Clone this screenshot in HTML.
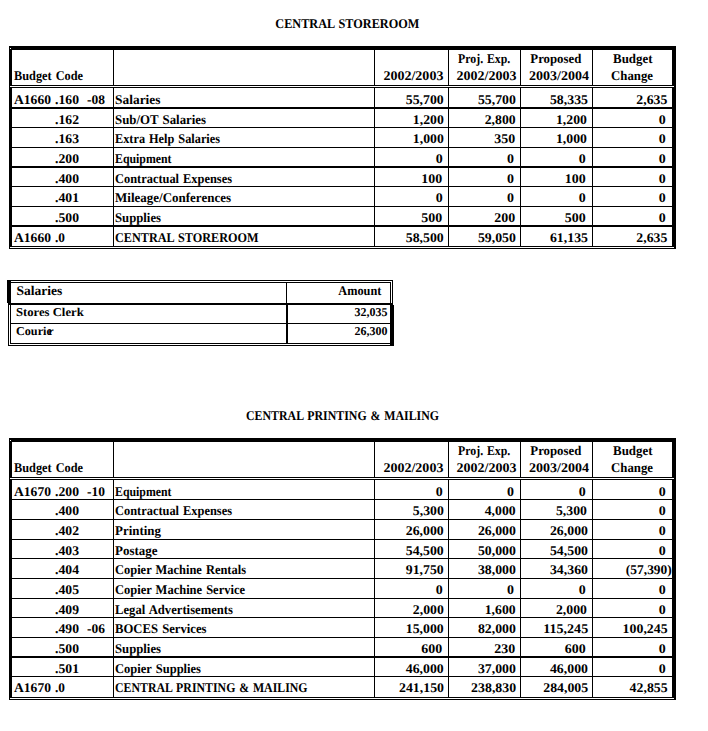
<!DOCTYPE html>
<html><head><meta charset="utf-8"><title>Budget</title>
<style>
html,body{margin:0;padding:0;background:#fff}
body{width:708px;height:731px;position:relative;overflow:hidden;font-family:"Liberation Serif",serif;font-weight:bold;font-size:13.33px;color:#000}
i{position:absolute;display:block;background:#000}
i.w{background:#fff}
b{position:absolute;display:block;white-space:pre;line-height:20px;height:20px;font-weight:bold;transform-origin:0 0}
</style></head><body>

<i style="left:9px;top:46px;width:667px;height:4px"></i>
<i style="left:9px;top:46px;width:3px;height:201px"></i>
<i style="left:9px;top:246px;width:1px;height:3px"></i>
<i style="left:672px;top:46px;width:4px;height:203px"></i>
<i style="left:9px;top:85px;width:667px;height:1px"></i>
<i style="left:9px;top:87px;width:667px;height:1px"></i>
<i style="left:9px;top:107px;width:665px;height:2px"></i>
<i style="left:9px;top:127px;width:665px;height:1px"></i>
<i style="left:9px;top:147px;width:665px;height:1px"></i>
<i style="left:9px;top:166px;width:665px;height:2px"></i>
<i style="left:9px;top:186px;width:665px;height:1px"></i>
<i style="left:9px;top:206px;width:665px;height:1px"></i>
<i style="left:9px;top:225px;width:665px;height:2px"></i>
<i style="left:9px;top:246px;width:665px;height:1px"></i>
<i style="left:9px;top:248px;width:667px;height:1px"></i>
<i style="left:113px;top:46px;width:1px;height:39px"></i>
<i style="left:113px;top:87px;width:1px;height:159px"></i>
<i style="left:374px;top:46px;width:1px;height:39px"></i>
<i style="left:374px;top:87px;width:1px;height:159px"></i>
<i style="left:448px;top:46px;width:1px;height:39px"></i>
<i style="left:448px;top:87px;width:1px;height:159px"></i>
<i style="left:520px;top:46px;width:1px;height:39px"></i>
<i style="left:520px;top:87px;width:1px;height:159px"></i>
<i style="left:592px;top:46px;width:1px;height:39px"></i>
<i style="left:592px;top:87px;width:1px;height:159px"></i>
<i style="left:9px;top:438px;width:667px;height:4px"></i>
<i style="left:9px;top:438px;width:3px;height:260px"></i>
<i style="left:9px;top:697px;width:1px;height:3px"></i>
<i style="left:672px;top:438px;width:4px;height:262px"></i>
<i style="left:9px;top:477px;width:667px;height:1px"></i>
<i style="left:9px;top:479px;width:667px;height:1px"></i>
<i style="left:9px;top:499px;width:665px;height:1px"></i>
<i style="left:9px;top:519px;width:665px;height:1px"></i>
<i style="left:9px;top:539px;width:665px;height:1px"></i>
<i style="left:9px;top:558px;width:665px;height:1px"></i>
<i style="left:9px;top:578px;width:665px;height:1px"></i>
<i style="left:9px;top:598px;width:665px;height:1px"></i>
<i style="left:9px;top:617px;width:665px;height:1px"></i>
<i style="left:9px;top:637px;width:665px;height:1px"></i>
<i style="left:9px;top:656px;width:665px;height:2px"></i>
<i style="left:9px;top:676px;width:665px;height:1px"></i>
<i style="left:9px;top:697px;width:665px;height:1px"></i>
<i style="left:9px;top:699px;width:667px;height:1px"></i>
<i style="left:113px;top:438px;width:1px;height:39px"></i>
<i style="left:113px;top:479px;width:1px;height:218px"></i>
<i style="left:374px;top:438px;width:1px;height:39px"></i>
<i style="left:374px;top:479px;width:1px;height:218px"></i>
<i style="left:448px;top:438px;width:1px;height:39px"></i>
<i style="left:448px;top:479px;width:1px;height:218px"></i>
<i style="left:520px;top:438px;width:1px;height:39px"></i>
<i style="left:520px;top:479px;width:1px;height:218px"></i>
<i style="left:592px;top:438px;width:1px;height:39px"></i>
<i style="left:592px;top:479px;width:1px;height:218px"></i>
<i style="left:8px;top:280px;width:385px;height:1px"></i>
<i style="left:10px;top:282px;width:381px;height:1px"></i>
<i style="left:7px;top:280px;width:4px;height:23px"></i>
<i style="left:8px;top:303px;width:1px;height:43px"></i>
<i style="left:10px;top:303px;width:1px;height:41px"></i>
<i style="left:8px;top:303px;width:385px;height:2px"></i>
<i style="left:10px;top:323px;width:381px;height:1px"></i>
<i style="left:10px;top:343px;width:381px;height:1px"></i>
<i style="left:8px;top:345px;width:386px;height:1px"></i>
<i style="left:286px;top:282px;width:1px;height:22px"></i>
<i style="left:286px;top:303px;width:2px;height:41px"></i>
<i style="left:390px;top:282px;width:1px;height:22px"></i>
<i style="left:392px;top:280px;width:1px;height:24px"></i>
<i style="left:390px;top:305px;width:4px;height:41px"></i>
<i class="w" style="left:10px;top:86px;width:664px;height:1px"></i>
<i class="w" style="left:10px;top:48px;width:1px;height:1px"></i>
<i class="w" style="left:10px;top:247px;width:664px;height:1px"></i>
<i class="w" style="left:10px;top:478px;width:664px;height:1px"></i>
<i class="w" style="left:10px;top:440px;width:1px;height:1px"></i>
<i class="w" style="left:10px;top:698px;width:664px;height:1px"></i>


<b style="top:14px;left:275px;word-spacing:1.0px;transform:translateX(0.30px) skewX(.05deg) scaleX(0.9192);">CENTRAL STOREROOM</b>
<b style="top:406px;left:246px;word-spacing:1.0px;transform:translateX(0.00px) skewX(.05deg) scaleX(0.8909);">CENTRAL PRINTING &amp; MAILING</b>
<b style="top:66px;left:14px;word-spacing:1.0px;transform:translateX(0.00px) skewX(.05deg) scaleX(0.9238);">Budget Code</b>
<b style="top:66px;left:383px;transform:translateX(0.40px) skewX(.05deg) scaleX(1.0523);">2002/2003</b>
<b style="top:49px;left:458px;word-spacing:1.0px;transform:translateX(0.00px) skewX(.05deg) scaleX(0.8881);">Proj. Exp.</b>
<b style="top:66px;left:456px;transform:translateX(0.50px) skewX(.05deg) scaleX(1.0523);">2002/2003</b>
<b style="top:49px;left:530px;transform:translateX(0.30px) skewX(.05deg) scaleX(0.9608);">Proposed</b>
<b style="top:66px;left:529px;transform:translateX(0.00px) skewX(.05deg) scaleX(1.0523);">2003/2004</b>
<b style="top:49px;left:613px;transform:translateX(0.00px) skewX(.05deg) scaleX(0.9697);">Budget</b>
<b style="top:66px;left:611px;transform:translateX(0.00px) skewX(.05deg) scaleX(0.9610);">Change</b>
<b style="top:90px;left:14px;transform:translateX(0.00px) skewX(.05deg) scaleX(1.0194);">A1660</b>
<b style="top:90px;left:55px;transform:translateX(0.00px) skewX(.05deg) scaleX(1.0288);">.160</b>
<b style="top:90px;left:87px;transform:translateX(0.00px) skewX(.05deg) scaleX(1.0123);">-08</b>
<b style="top:90px;left:115px;transform:translateX(0.00px) skewX(.05deg) scaleX(1.0073);">Salaries</b>
<b style="top:90px;left:405px;transform:translateX(0.75px) skewX(.05deg) scaleX(1.0367);">55,700</b>
<b style="top:90px;left:477px;transform:translateX(0.90px) skewX(.05deg) scaleX(1.0367);">55,700</b>
<b style="top:90px;left:549px;transform:translateX(0.95px) skewX(.05deg) scaleX(1.0367);">58,335</b>
<b style="top:90px;left:636px;transform:translateX(0.30px) skewX(.05deg) scaleX(1.0333);">2,635</b>
<b style="top:110px;left:55px;transform:translateX(0.00px) skewX(.05deg) scaleX(1.0288);">.162</b>
<b style="top:110px;left:115px;word-spacing:1.0px;transform:translateX(0.00px) skewX(.05deg) scaleX(0.9634);">Sub/OT Salaries</b>
<b style="top:110px;left:412px;transform:translateX(0.80px) skewX(.05deg) scaleX(1.0333);">1,200</b>
<b style="top:110px;left:484px;transform:translateX(0.70px) skewX(.05deg) scaleX(1.0333);">2,800</b>
<b style="top:110px;left:555px;transform:translateX(0.90px) skewX(.05deg) scaleX(1.0333);">1,200</b>
<b style="top:110px;left:658px;transform:translateX(0.85px) skewX(.05deg) scaleX(1.0492);">0</b>
<b style="top:129px;left:55px;transform:translateX(0.00px) skewX(.05deg) scaleX(1.0288);">.163</b>
<b style="top:129px;left:115px;word-spacing:1.0px;transform:translateX(0.00px) skewX(.05deg) scaleX(0.9226);">Extra Help Salaries</b>
<b style="top:129px;left:412px;transform:translateX(0.80px) skewX(.05deg) scaleX(1.0333);">1,000</b>
<b style="top:129px;left:494px;transform:translateX(0.20px) skewX(.05deg) scaleX(1.0500);">350</b>
<b style="top:129px;left:555px;transform:translateX(0.90px) skewX(.05deg) scaleX(1.0333);">1,000</b>
<b style="top:129px;left:658px;transform:translateX(0.85px) skewX(.05deg) scaleX(1.0492);">0</b>
<b style="top:149px;left:55px;transform:translateX(0.00px) skewX(.05deg) scaleX(1.0288);">.200</b>
<b style="top:149px;left:115px;transform:translateX(0.00px) skewX(.05deg) scaleX(0.8869);">Equipment</b>
<b style="top:149px;left:435px;transform:translateX(0.70px) skewX(.05deg) scaleX(1.0492);">0</b>
<b style="top:149px;left:506px;transform:translateX(0.90px) skewX(.05deg) scaleX(1.0492);">0</b>
<b style="top:149px;left:578px;transform:translateX(0.80px) skewX(.05deg) scaleX(1.0492);">0</b>
<b style="top:149px;left:658px;transform:translateX(0.85px) skewX(.05deg) scaleX(1.0492);">0</b>
<b style="top:169px;left:55px;transform:translateX(0.00px) skewX(.05deg) scaleX(1.0288);">.400</b>
<b style="top:169px;left:115px;word-spacing:1.0px;transform:translateX(0.00px) skewX(.05deg) scaleX(0.9302);">Contractual Expenses</b>
<b style="top:169px;left:421px;transform:translateX(0.25px) skewX(.05deg) scaleX(1.0500);">100</b>
<b style="top:169px;left:506px;transform:translateX(0.90px) skewX(.05deg) scaleX(1.0492);">0</b>
<b style="top:169px;left:564px;transform:translateX(0.80px) skewX(.05deg) scaleX(1.0500);">100</b>
<b style="top:169px;left:658px;transform:translateX(0.85px) skewX(.05deg) scaleX(1.0492);">0</b>
<b style="top:188px;left:55px;transform:translateX(0.00px) skewX(.05deg) scaleX(1.0288);">.401</b>
<b style="top:188px;left:115px;transform:translateX(0.00px) skewX(.05deg) scaleX(0.9753);">Mileage/Conferences</b>
<b style="top:188px;left:435px;transform:translateX(0.70px) skewX(.05deg) scaleX(1.0492);">0</b>
<b style="top:188px;left:506px;transform:translateX(0.90px) skewX(.05deg) scaleX(1.0492);">0</b>
<b style="top:188px;left:578px;transform:translateX(0.80px) skewX(.05deg) scaleX(1.0492);">0</b>
<b style="top:188px;left:658px;transform:translateX(0.85px) skewX(.05deg) scaleX(1.0492);">0</b>
<b style="top:208px;left:55px;transform:translateX(0.00px) skewX(.05deg) scaleX(1.0288);">.500</b>
<b style="top:208px;left:115px;transform:translateX(0.00px) skewX(.05deg) scaleX(0.9549);">Supplies</b>
<b style="top:208px;left:421px;transform:translateX(0.25px) skewX(.05deg) scaleX(1.0500);">500</b>
<b style="top:208px;left:494px;transform:translateX(0.20px) skewX(.05deg) scaleX(1.0500);">200</b>
<b style="top:208px;left:564px;transform:translateX(0.80px) skewX(.05deg) scaleX(1.0500);">500</b>
<b style="top:208px;left:658px;transform:translateX(0.85px) skewX(.05deg) scaleX(1.0492);">0</b>
<b style="top:228px;left:14px;transform:translateX(0.00px) skewX(.05deg) scaleX(1.0194);">A1660</b>
<b style="top:228px;left:55px;transform:translateX(0.00px) skewX(.05deg) scaleX(1.0000);">.0</b>
<b style="top:228px;left:115px;word-spacing:1.0px;transform:translateX(0.00px) skewX(.05deg) scaleX(0.9160);">CENTRAL STOREROOM</b>
<b style="top:228px;left:405px;transform:translateX(0.75px) skewX(.05deg) scaleX(1.0367);">58,500</b>
<b style="top:228px;left:477px;transform:translateX(0.90px) skewX(.05deg) scaleX(1.0367);">59,050</b>
<b style="top:228px;left:549px;transform:translateX(0.95px) skewX(.05deg) scaleX(1.0367);">61,135</b>
<b style="top:228px;left:636px;transform:translateX(0.30px) skewX(.05deg) scaleX(1.0333);">2,635</b>
<b style="top:458px;left:14px;word-spacing:1.0px;transform:translateX(0.00px) skewX(.05deg) scaleX(0.9238);">Budget Code</b>
<b style="top:458px;left:383px;transform:translateX(0.40px) skewX(.05deg) scaleX(1.0523);">2002/2003</b>
<b style="top:441px;left:458px;word-spacing:1.0px;transform:translateX(0.00px) skewX(.05deg) scaleX(0.8881);">Proj. Exp.</b>
<b style="top:458px;left:456px;transform:translateX(0.50px) skewX(.05deg) scaleX(1.0523);">2002/2003</b>
<b style="top:441px;left:530px;transform:translateX(0.30px) skewX(.05deg) scaleX(0.9608);">Proposed</b>
<b style="top:458px;left:529px;transform:translateX(0.00px) skewX(.05deg) scaleX(1.0523);">2003/2004</b>
<b style="top:441px;left:613px;transform:translateX(0.00px) skewX(.05deg) scaleX(0.9697);">Budget</b>
<b style="top:458px;left:611px;transform:translateX(0.00px) skewX(.05deg) scaleX(0.9610);">Change</b>
<b style="top:482px;left:14px;transform:translateX(0.00px) skewX(.05deg) scaleX(1.0194);">A1670</b>
<b style="top:482px;left:55px;transform:translateX(0.00px) skewX(.05deg) scaleX(1.0288);">.200</b>
<b style="top:482px;left:87px;transform:translateX(0.00px) skewX(.05deg) scaleX(1.0123);">-10</b>
<b style="top:482px;left:115px;transform:translateX(0.00px) skewX(.05deg) scaleX(0.8869);">Equipment</b>
<b style="top:482px;left:435px;transform:translateX(0.70px) skewX(.05deg) scaleX(1.0492);">0</b>
<b style="top:482px;left:506px;transform:translateX(0.90px) skewX(.05deg) scaleX(1.0492);">0</b>
<b style="top:482px;left:578px;transform:translateX(0.80px) skewX(.05deg) scaleX(1.0492);">0</b>
<b style="top:482px;left:658px;transform:translateX(0.85px) skewX(.05deg) scaleX(1.0492);">0</b>
<b style="top:501px;left:55px;transform:translateX(0.00px) skewX(.05deg) scaleX(1.0288);">.400</b>
<b style="top:501px;left:115px;word-spacing:1.0px;transform:translateX(0.00px) skewX(.05deg) scaleX(0.9302);">Contractual Expenses</b>
<b style="top:501px;left:412px;transform:translateX(0.80px) skewX(.05deg) scaleX(1.0333);">5,300</b>
<b style="top:501px;left:484px;transform:translateX(0.70px) skewX(.05deg) scaleX(1.0333);">4,000</b>
<b style="top:501px;left:555px;transform:translateX(0.90px) skewX(.05deg) scaleX(1.0333);">5,300</b>
<b style="top:501px;left:658px;transform:translateX(0.85px) skewX(.05deg) scaleX(1.0492);">0</b>
<b style="top:521px;left:55px;transform:translateX(0.00px) skewX(.05deg) scaleX(1.0288);">.402</b>
<b style="top:521px;left:115px;transform:translateX(0.00px) skewX(.05deg) scaleX(0.9707);">Printing</b>
<b style="top:521px;left:405px;transform:translateX(0.75px) skewX(.05deg) scaleX(1.0367);">26,000</b>
<b style="top:521px;left:477px;transform:translateX(0.90px) skewX(.05deg) scaleX(1.0367);">26,000</b>
<b style="top:521px;left:549px;transform:translateX(0.95px) skewX(.05deg) scaleX(1.0367);">26,000</b>
<b style="top:521px;left:658px;transform:translateX(0.85px) skewX(.05deg) scaleX(1.0492);">0</b>
<b style="top:541px;left:55px;transform:translateX(0.00px) skewX(.05deg) scaleX(1.0288);">.403</b>
<b style="top:541px;left:115px;transform:translateX(0.00px) skewX(.05deg) scaleX(0.9728);">Postage</b>
<b style="top:541px;left:405px;transform:translateX(0.75px) skewX(.05deg) scaleX(1.0367);">54,500</b>
<b style="top:541px;left:477px;transform:translateX(0.90px) skewX(.05deg) scaleX(1.0367);">50,000</b>
<b style="top:541px;left:549px;transform:translateX(0.95px) skewX(.05deg) scaleX(1.0367);">54,500</b>
<b style="top:541px;left:658px;transform:translateX(0.85px) skewX(.05deg) scaleX(1.0492);">0</b>
<b style="top:560px;left:55px;transform:translateX(0.00px) skewX(.05deg) scaleX(1.0288);">.404</b>
<b style="top:560px;left:115px;word-spacing:1.0px;transform:translateX(0.00px) skewX(.05deg) scaleX(0.9343);">Copier Machine Rentals</b>
<b style="top:560px;left:405px;transform:translateX(0.75px) skewX(.05deg) scaleX(1.0367);">91,750</b>
<b style="top:560px;left:477px;transform:translateX(0.90px) skewX(.05deg) scaleX(1.0367);">38,000</b>
<b style="top:560px;left:549px;transform:translateX(0.95px) skewX(.05deg) scaleX(1.0367);">34,360</b>
<b style="top:560px;left:625px;transform:translateX(0.80px) skewX(.05deg) scaleX(1.0103);">(57,390)</b>
<b style="top:580px;left:55px;transform:translateX(0.00px) skewX(.05deg) scaleX(1.0288);">.405</b>
<b style="top:580px;left:115px;word-spacing:1.0px;transform:translateX(0.00px) skewX(.05deg) scaleX(0.9371);">Copier Machine Service</b>
<b style="top:580px;left:435px;transform:translateX(0.70px) skewX(.05deg) scaleX(1.0492);">0</b>
<b style="top:580px;left:506px;transform:translateX(0.90px) skewX(.05deg) scaleX(1.0492);">0</b>
<b style="top:580px;left:578px;transform:translateX(0.80px) skewX(.05deg) scaleX(1.0492);">0</b>
<b style="top:580px;left:658px;transform:translateX(0.85px) skewX(.05deg) scaleX(1.0492);">0</b>
<b style="top:600px;left:55px;transform:translateX(0.00px) skewX(.05deg) scaleX(1.0288);">.409</b>
<b style="top:600px;left:115px;word-spacing:1.0px;transform:translateX(0.00px) skewX(.05deg) scaleX(0.9496);">Legal Advertisements</b>
<b style="top:600px;left:412px;transform:translateX(0.80px) skewX(.05deg) scaleX(1.0333);">2,000</b>
<b style="top:600px;left:484px;transform:translateX(0.70px) skewX(.05deg) scaleX(1.0333);">1,600</b>
<b style="top:600px;left:555px;transform:translateX(0.90px) skewX(.05deg) scaleX(1.0333);">2,000</b>
<b style="top:600px;left:658px;transform:translateX(0.85px) skewX(.05deg) scaleX(1.0492);">0</b>
<b style="top:619px;left:55px;transform:translateX(0.00px) skewX(.05deg) scaleX(1.0288);">.490</b>
<b style="top:619px;left:87px;transform:translateX(0.00px) skewX(.05deg) scaleX(1.0123);">-06</b>
<b style="top:619px;left:115px;word-spacing:1.0px;transform:translateX(0.00px) skewX(.05deg) scaleX(0.9516);">BOCES Services</b>
<b style="top:619px;left:405px;transform:translateX(0.75px) skewX(.05deg) scaleX(1.0367);">15,000</b>
<b style="top:619px;left:477px;transform:translateX(0.90px) skewX(.05deg) scaleX(1.0367);">82,000</b>
<b style="top:619px;left:543px;transform:translateX(0.20px) skewX(.05deg) scaleX(1.0565);">115,245</b>
<b style="top:619px;left:622px;transform:translateX(0.60px) skewX(.05deg) scaleX(1.0386);">100,245</b>
<b style="top:639px;left:55px;transform:translateX(0.00px) skewX(.05deg) scaleX(1.0288);">.500</b>
<b style="top:639px;left:115px;transform:translateX(0.00px) skewX(.05deg) scaleX(0.9549);">Supplies</b>
<b style="top:639px;left:421px;transform:translateX(0.25px) skewX(.05deg) scaleX(1.0500);">600</b>
<b style="top:639px;left:494px;transform:translateX(0.20px) skewX(.05deg) scaleX(1.0500);">230</b>
<b style="top:639px;left:564px;transform:translateX(0.80px) skewX(.05deg) scaleX(1.0500);">600</b>
<b style="top:639px;left:658px;transform:translateX(0.85px) skewX(.05deg) scaleX(1.0492);">0</b>
<b style="top:659px;left:55px;transform:translateX(0.00px) skewX(.05deg) scaleX(1.0288);">.501</b>
<b style="top:659px;left:115px;word-spacing:1.0px;transform:translateX(0.00px) skewX(.05deg) scaleX(0.9399);">Copier Supplies</b>
<b style="top:659px;left:405px;transform:translateX(0.75px) skewX(.05deg) scaleX(1.0367);">46,000</b>
<b style="top:659px;left:477px;transform:translateX(0.90px) skewX(.05deg) scaleX(1.0367);">37,000</b>
<b style="top:659px;left:549px;transform:translateX(0.95px) skewX(.05deg) scaleX(1.0367);">46,000</b>
<b style="top:659px;left:658px;transform:translateX(0.85px) skewX(.05deg) scaleX(1.0492);">0</b>
<b style="top:678px;left:14px;transform:translateX(0.00px) skewX(.05deg) scaleX(1.0194);">A1670</b>
<b style="top:678px;left:55px;transform:translateX(0.00px) skewX(.05deg) scaleX(1.0000);">.0</b>
<b style="top:678px;left:115px;word-spacing:1.0px;transform:translateX(0.00px) skewX(.05deg) scaleX(0.8886);">CENTRAL PRINTING &amp; MAILING</b>
<b style="top:678px;left:399px;transform:translateX(0.00px) skewX(.05deg) scaleX(1.0386);">241,150</b>
<b style="top:678px;left:471px;transform:translateX(0.10px) skewX(.05deg) scaleX(1.0386);">238,830</b>
<b style="top:678px;left:543px;transform:translateX(0.20px) skewX(.05deg) scaleX(1.0386);">284,005</b>
<b style="top:678px;left:629px;transform:translateX(0.60px) skewX(.05deg) scaleX(1.0367);">42,855</b>
<b style="top:281px;left:16px;transform:translateX(0.40px) skewX(.05deg) scaleX(1.0183);">Salaries</b>
<b style="top:281px;left:338px;transform:translateX(0.30px) skewX(.05deg) scaleX(0.9216);">Amount</b>
<b style="top:302px;left:15px;font-size:12px;transform:translateX(0.90px) skewX(.05deg) scaleX(1.0576);">Stores Clerk</b>
<b style="top:321px;left:15px;font-size:12px;transform:translateX(0.90px) skewX(.05deg) scaleX(1.0190);">Courie</b>
<b style="top:321px;left:48px;font-size:12px;transform:translateX(0.20px) skewX(.05deg) scaleX(1.0000);">r</b>
<b style="top:302px;left:354px;font-size:12px;transform:translateX(0.50px) skewX(.05deg) scaleX(1.0000);">32,035</b>
<b style="top:321px;left:354px;font-size:12px;transform:translateX(0.50px) skewX(.05deg) scaleX(1.0000);">26,300</b>

</body></html>
